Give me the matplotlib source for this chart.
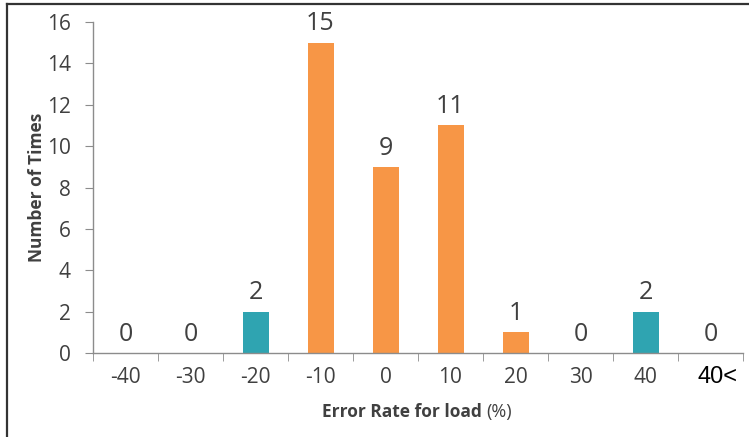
import numpy as np
import matplotlib.pyplot as plt
from matplotlib.lines import Line2D
import matplotlib.transforms as mtransforms

categories = ['-40', '-30', '-20', '-10', '0', '10', '20', '30', '40', '40<']
counts = [0, 0, 2, 15, 9, 11, 1, 0, 2, 0]
teal_cats = ['-20', '40']

orange = '#F79646'
teal = '#2FA4B1'
text_col = '#404040'
axis_col = '#8C8C8C'

plt.rcParams['font.family'] = ['Open Sans', 'DejaVu Sans']

fig = plt.figure(figsize=(7.49, 4.37), dpi=100)
ax = fig.add_axes([93 / 749, 1 - 353 / 437, 650 / 749, 331 / 437])

x = np.arange(len(categories))
colors = [teal if c in teal_cats else orange for c in categories]
ax.bar(x, counts, width=0.4, color=colors, zorder=2)

for xi, v in zip(x, counts):
    ax.annotate(str(v), (xi, v), xytext=(0, 4.5), textcoords='offset points',
                ha='center', va='bottom', fontsize=18, color=text_col)

ax.set_xlim(-0.5, len(categories) - 0.5)
ax.set_ylim(0, 16)
ax.set_yticks(range(0, 17, 2))
ax.set_xticks(x)
ax.set_xticklabels(categories)
ax.set_xticks(np.arange(-0.5, len(categories), 1), minor=True)

for s in ['top', 'right']:
    ax.spines[s].set_visible(False)
for s in ['left', 'bottom']:
    ax.spines[s].set_color(axis_col)
    ax.spines[s].set_linewidth(1)

ax.tick_params(axis='y', colors=axis_col, labelcolor=text_col, labelsize=15,
               length=6, direction='out', pad=10)
ax.tick_params(axis='x', which='major', length=0, labelcolor=text_col,
               labelsize=15, pad=10)
ax.tick_params(axis='x', which='minor', length=6, color=axis_col, direction='out')

last = ax.get_xticklabels()[-1]
last.set_fontfamily(['Liberation Sans', 'DejaVu Sans'])
last.set_color('black')
last.set_fontsize(17)
last.set_transform(last.get_transform() +
                   mtransforms.ScaledTranslation(7 / 100, 1 / 100, fig.dpi_scale_trans))

ax.set_ylabel('Number of Times', fontsize=12.5, fontweight='bold', color=text_col)
ax.yaxis.set_label_coords((46 - 93) / 650, 0.5)
fig.text(482 / 749, 1 - 412 / 437, 'Error Rate for load', ha='right', va='center',
         fontsize=12.5, fontweight='bold', color=text_col)
fig.text(486 / 749, 1 - 412 / 437, '(%)', ha='left', va='center',
         fontsize=13, color=text_col)

# outer chart frame (only top and left edges visible)
fig.add_artist(Line2D([7 / 749, 1], [1 - 3.5 / 437, 1 - 3.5 / 437],
                      transform=fig.transFigure, color='#333333', lw=1.6))
fig.add_artist(Line2D([7 / 749, 7 / 749], [0, 1 - 3.5 / 437],
                      transform=fig.transFigure, color='#333333', lw=1.6))

fig.savefig('out.png', dpi=100)
